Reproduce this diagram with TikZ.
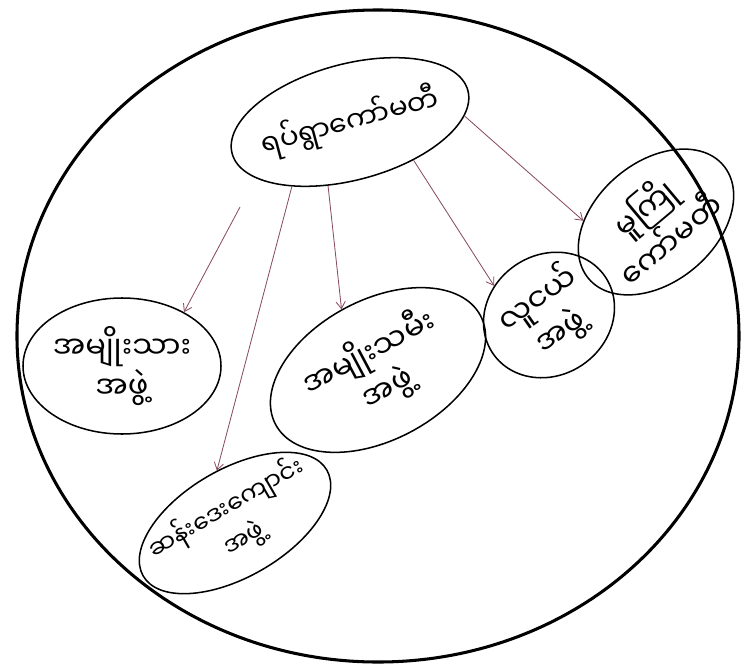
\documentclass[tikz,border=0pt]{standalone}
\usepackage{fontspec}
\usepackage{tikz}
\usetikzlibrary{shapes.geometric}
\usetikzlibrary{arrows.meta}
\newfontfamily\mmfont[Script=Myanmar]{Noto Sans Myanmar UI}
\definecolor{linkred}{RGB}{135,75,92}

\begin{document}
\begin{tikzpicture}[x=0.03cm, y=-0.03cm,
        grp/.style={draw, ellipse, line width=1.3pt, inner sep=-0.45cm, align=center,
            font=\mmfont\fontsize{26}{34}\selectfont},
        small/.style={font=\mmfont\fontsize{24}{32}\selectfont},
        tiny/.style={font=\mmfont\fontsize{21}{30}\selectfont},
        link/.style={draw=linkred, line width=0.7pt, -{Straight Barb[length=6pt, width=8pt]}}]
            \useasboundingbox (0.000, 0.000) rectangle (745.000, 668.000);

            \node[draw, ellipse, line width=2.6pt, minimum width=21.66cm, minimum height=19.56cm] (ring) at (378.000, 336.000) {};
            \node[grp, small, rotate=15, minimum width=7.32cm, minimum height=3.48cm] (comm) at (350.000, 122.000) {ရပ်ရွာကော်မတီ};
            \node[grp, minimum width=5.94cm, minimum height=4.08cm] (men) at (122.000, 366.000) {အမျိုးသား\\အဖွဲ့};
            \node[grp, rotate=28, minimum width=6.96cm, minimum height=4.20cm] (women) at (378.000, 370.000) {အမျိုးသမီး\\အဖွဲ့};
            \node[grp, rotate=35, minimum width=4.08cm, minimum height=3.60cm] (youth) at (549.000, 315.000) {လူငယ်\\အဖွဲ့};
            \node[grp, rotate=40, minimum width=5.28cm, minimum height=3.60cm] (nursery) at (656.000, 222.000) {မူကြို\\ကော်မတီ};
            \node[grp, tiny, rotate=30, inner sep=-1.2cm, minimum width=6.36cm, minimum height=3.24cm] (sunday) at (235.000, 523.000) {ဆန်းဒေးကျောင်း\\အဖွဲ့};
            \coordinate (m0) at (240.000, 207.000);

            \draw[link] (m0) -- (men.41);
            \draw[link] (comm.213) -- (sunday.79);
            \draw[link] (comm.236) -- (women.93);
            \draw[link] (comm.314) -- (youth.117);
            \draw[link] (comm.348) -- (nursery.139);
        \end{tikzpicture}
\end{document}
